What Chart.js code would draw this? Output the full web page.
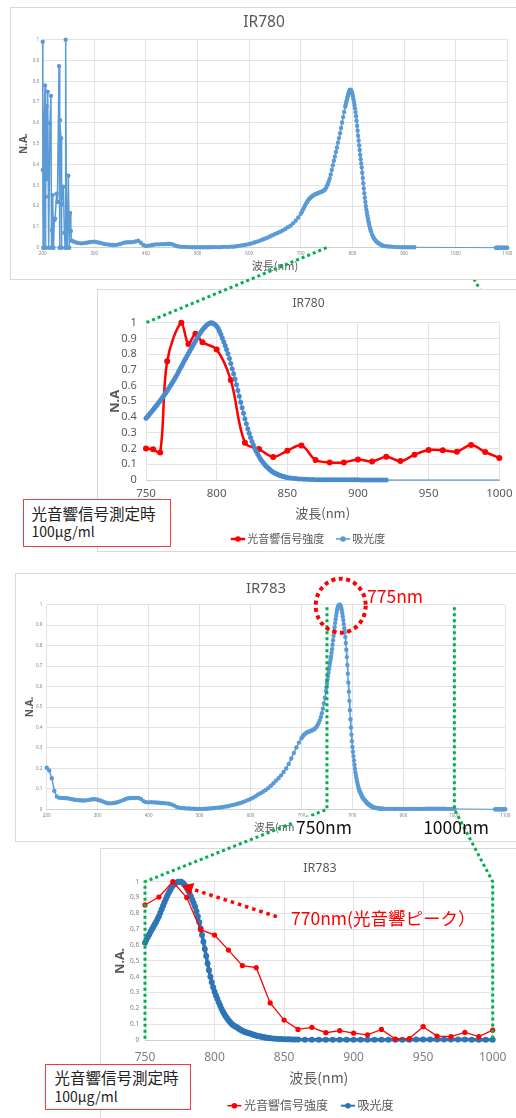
<!DOCTYPE html>
<html lang="ja">
<head>
<meta charset="utf-8">
<title>IR780 / IR783 吸光度と光音響信号</title>
<script src="https://cdn.jsdelivr.net/npm/chart.js@4.4.1/dist/chart.umd.min.js"></script>
<style>
  html, body { margin: 0; padding: 0; background: #fff; overflow: hidden; }
  body { position: relative; width: 516px; height: 1118px; font-family: 'Noto Sans', 'Noto Sans CJK JP', sans-serif; }
  .frame { position: absolute; background: #fff; border: 1px solid #D9D9D9; box-sizing: border-box; overflow: hidden; }
  .frame canvas { position: absolute; left: -1px; top: -1px; }
  #f1 { left: 10px; top: 7px; width: 508px; height: 273px; z-index: 1; }
  #f2 { left: 97px; top: 289px; width: 423px; height: 263px; z-index: 2; }
  #f3 { left: 15px; top: 573px; width: 502px; height: 269px; z-index: 3; }
  #f4 { left: 100px; top: 848px; width: 440px; height: 275px; z-index: 4; }
  #overlay { position: absolute; left: 0; top: 0; z-index: 8; pointer-events: none; }
  .note { position: absolute; white-space: nowrap; z-index: 10; font-family: 'Noto Sans CJK JP', 'Noto Sans', sans-serif; }
  #n775 { left: 367px; top: 585px; font-size: 17.5px; line-height: 21px; color: #FF0000; }
  #n750 { left: 324px; top: 826px; transform: translate(-50%, -50%); font-size: 17.5px; line-height: 19px; color: #111; background: #fff; padding: 0 2px; }
  #n1000 { left: 456px; top: 826px; transform: translate(-50%, -50%); font-size: 17.5px; line-height: 19px; color: #111; }
  #n770 { left: 291px; top: 917px; transform: translateY(-50%); font-size: 17.5px; line-height: 21px; color: #FF0000; }
  .box { position: absolute; z-index: 10; background: #fff; border: 1.5px solid #EE3B3B; box-sizing: border-box; color: #222; font-family: 'Noto Sans CJK JP', 'Noto Sans', sans-serif; }
  .box span { position: absolute; white-space: nowrap; }
  .box .l1 { font-size: 15.5px; line-height: 18px; }
  .box .l2 { font-size: 14px; line-height: 17px; }
  #b1 { left: 23px; top: 499px; width: 148px; height: 48px; }
  #b1 .l1 { left: 7.5px; top: 3.8px; }
  #b1 .l2 { left: 7.5px; top: 23.3px; }
  #b2 { left: 45px; top: 1064px; width: 146px; height: 46px; }
  #b2 .l1 { left: 8.5px; top: 2.5px; }
  #b2 .l2 { left: 8.5px; top: 22.7px; }
</style>
</head>
<body>
<div class="frame" id="f1"><canvas id="c1" width="508" height="273"></canvas></div>
<div class="frame" id="f2"><canvas id="c2" width="423" height="263"></canvas></div>
<div class="frame" id="f3"><canvas id="c3" width="502" height="269"></canvas></div>
<div class="frame" id="f4"><canvas id="c4" width="440" height="275"></canvas></div>
<canvas id="overlay" width="516" height="1118"></canvas>

<div class="note" id="n775">775nm</div>
<div class="note" id="n750">750nm</div>
<div class="note" id="n1000">1000nm</div>
<div class="note" id="n770">770nm(光音響ピーク）</div>
<div class="box" id="b1"><span class="l1">光音響信号測定時</span><span class="l2">100μg/ml</span></div>
<div class="box" id="b2"><span class="l1">光音響信号測定時</span><span class="l2">100μg/ml</span></div>

<script>
// ---- Data: [wavelength (nm), normalized absorbance / signal] ----

// IR780 absorbance spectrum, 200–1100 nm
const ir780Spectrum = [
  [200,.99],[200.3,.374],[201,0],[202.5,.557],[204.5,.78],[205.3,0],[206,.245],[207.7,.68],[208.7,.33],[209.7,.75],
  [211.5,0],[214,.60],[216,.73],[217,0],[218,.085],[219.3,.253],[221,0],[222.5,.133],[224,.14],[227,.26],
  [228.5,.22],[231.6,.873],[232.5,0],[233.5,.613],[235.5,.526],[236.3,0],[237,.21],[240,.293],[242,.072],[243.5,0],
  [244.5,1.0],[246,.085],[247.5,0],[249.6,.346],[251.5,0],[253,.167],[254.5,.08],[256,.034],
  [260,.030],[265,.025],[270,.022],[275,.021],[280,.022],[285,.024],[290,.026],[295,.028],[300,.029],[305,.027],
  [310,.024],[315,.021],[320,.018],[325,.016],[330,.014],[335,.013],[340,.013],[345,.015],[350,.018],[355,.022],
  [360,.025],[365,.026],[370,.026],[375,.027],[380,.030],[385,.034],[390,.024],[395,.013],[400,.008],[405,.010],
  [410,.012],[415,.014],[420,.016],[425,.016],[430,.017],[435,.017],[440,.018],[445,.019],[450,.017],[455,.012],
  [460,.008],[465,.005],[470,.004],[475,.004],[480,.003],[485,.003],[490,.002],[495,.002],[500,.002],[505,.002],
  [510,.002],[515,.002],[520,.002],[525,.002],[530,.003],[535,.003],[540,.003],[545,.003],[550,.004],[555,.004],
  [560,.004],[565,.005],[570,.005],[575,.007],[580,.009],[585,.011],[590,.013],[595,.015],[600,.018],[605,.021],
  [610,.025],[615,.029],[620,.033],[625,.038],[630,.043],[635,.048],[640,.054],[645,.060],[650,.066],[655,.071],
  [660,.077],[665,.083],[670,.090],[675,.098],[680,.106],[685,.117],[690,.130],[695,.145],[700,.163],
  [702,.172],[704,.182],[706,.192],[708,.202],[710,.211],[712,.219],[714,.227],[716,.234],[718,.239],[720,.244],
  [722,.248],[724,.251],[726,.254],[728,.257],[730,.259],[732,.261],[734,.263],[736,.265],[738,.267],[740,.269],
  [742,.271],[744,.274],[746,.278],[748,.284],[750,.293],[752,.305],[754,.318],[756,.333],[758,.352],[760,.374],
  [762,.396],[764,.418],[766,.438],[768,.460],[770,.482],[772,.505],[774,.527],[776,.550],[778,.576],[780,.602],
  [782,.628],[784,.653],
  [786,.678],[787,.688],[788,.698],[789,.708],[790,.718],[791,.728],[792,.738],[793,.746],[794,.753],[795,.758],
  [796,.760],[797,.759],[798,.754],[799,.747],[800,.738],[801,.727],[802,.714],[803,.700],[804,.686],[805,.670],
  [806,.652],[807,.632],[808,.610],[809,.586],[810,.562],[811,.538],[812,.515],[813,.492],[814,.470],[815,.447],
  [816,.425],[817,.405],[818,.385],[819,.360],[820,.335],[821,.310],[822,.285],[823,.262],[824,.240],[825,.220],
  [826,.200],[827,.183],[828,.168],[829,.154],[830,.140],[831,.127],[832,.115],[833,.105],[834,.095],[835,.086],
  [836,.078],
  [838,.064],[840,.053],[842,.044],[844,.037],[846,.031],[848,.026],[850,.022],[852,.019],[854,.016],[856,.013],
  [858,.011],[860,.009],
  [865,.007],[870,.006],[875,.005],[880,.004],[885,.003],[890,.003],[895,.002],[900,.002],[905,.002],[910,.002],
  [915,.002],[920,.002],
  [1078,0],[1080,0],[1082,0],[1084,0],[1086,0],[1088,0],[1090,0],[1092,0],[1094,0],[1096,0],[1098,0],[1100,0]
];

// IR780 absorbance, normalized to its 795 nm peak (750–1000 nm)
const ir780Absorbance = [
  [750,.392],[751,.402],[752,.413],[753,.424],[754,.435],[755,.446],[756,.458],[757,.469],[758,.480],[759,.492],
  [760,.504],[761,.516],[762,.529],[763,.542],[764,.555],[765,.568],[766,.582],[767,.596],[768,.610],[769,.624],
  [770,.639],[771,.655],[772,.671],[773,.688],[774,.705],[775,.722],[776,.739],[777,.756],[778,.772],[779,.788],
  [780,.804],[781,.820],[782,.836],[783,.852],[784,.868],[785,.884],[786,.900],[787,.915],[788,.930],[789,.943],
  [790,.955],[791,.966],[792,.976],[793,.985],[794,.992],[795,.997],[796,.999],[797,.998],[798,.994],[799,.987],
  [800,.977],[801,.964],[802,.946],[803,.925],[804,.902],[805,.879],[806,.855],[807,.830],[808,.802],[809,.772],
  [810,.740],[811,.708],[812,.675],[813,.642],[814,.606],[815,.569],[816,.532],[817,.495],[818,.459],[819,.424],
  [820,.390],[821,.357],[822,.326],[823,.297],[824,.270],[825,.245],[826,.222],[827,.201],[828,.182],[829,.165],
  [830,.149],[831,.134],[832,.121],[833,.109],[834,.098],[835,.088],[836,.079],[837,.071],[838,.063],[839,.056],
  [840,.050],[841,.045],[842,.040],[843,.036],[844,.032],[845,.029],[846,.026],[847,.023],[848,.020],[849,.018],
  [850,.016],[852,.013],[854,.011],[856,.009],[858,.007],[860,.006],[862,.005],[864,.004],[866,.003],[868,.003],
  [870,.002],[872,.002],[874,.002],[876,.001],[878,.001],[880,.001],[882,.001],[884,.001],[886,.001],[888,.001],
  [890,.001],[892,.001],[894,.001],[896,.001],[898,.001],[900,.001],[902,0],[904,0],[906,0],[908,0],
  [910,0],[912,0],[914,0],[916,0],[918,0],[920,0],
  [1000,0]
];

// IR780 photoacoustic signal intensity (normalized)
const ir780Photoacoustic = [
  [750,.200],[755,.195],[760,.175],[765,.755],[775,1.0],[780,.865],[785,.930],[790,.875],[800,.830],[810,.635],
  [820,.237],[830,.197],[840,.147],[850,.186],[860,.220],[870,.127],[880,.112],[890,.112],[900,.131],[910,.118],
  [920,.148],[930,.120],[940,.161],[950,.191],[960,.189],[970,.180],[980,.222],[990,.178],[1000,.140]
];

// IR783 absorbance spectrum, 200–1100 nm (peak 775 nm = 1)
const ir783Spectrum = [
  [200,.203],[205,.190],[210,.152],[215,.090],[220,.062],[225,.056],[230,.055],[235,.055],[240,.054],[245,.052],
  [250,.049],[255,.047],[260,.045],[265,.044],[270,.043],[275,.043],[280,.045],[285,.047],[290,.049],[295,.049],
  [300,.047],[305,.043],[310,.038],[315,.033],[320,.030],[325,.029],[330,.030],[335,.032],[340,.036],[345,.040],
  [350,.045],[355,.050],[360,.054],[365,.055],[370,.055],[375,.055],[380,.056],[385,.050],[390,.040],[395,.035],
  [400,.034],[405,.035],[410,.034],[415,.033],[420,.032],[425,.031],[430,.030],[435,.029],[440,.027],[445,.024],
  [450,.018],[455,.012],[460,.008],[465,.006],[470,.005],[475,.004],[480,.004],[485,.003],[490,.003],[495,.002],
  [500,.002],[505,.002],[510,.003],[515,.003],[520,.004],[525,.005],[530,.006],[535,.008],[540,.009],[545,.011],
  [550,.013],[555,.015],[560,.018],[565,.021],[570,.024],[575,.027],[580,.031],[585,.035],[590,.040],[595,.045],
  [600,.050],[605,.057],[610,.064],[615,.072],[620,.079],[625,.087],[630,.094],[635,.104],[640,.115],[645,.127],
  [650,.140],[655,.152],[660,.166],[665,.182],[670,.200],[675,.222],[680,.248],[685,.275],[690,.302],[695,.326],
  [700,.347],
  [702,.355],[704,.362],[706,.367],[708,.371],[710,.374],[712,.377],[714,.379],[716,.381],[718,.383],[720,.385],
  [722,.387],[724,.390],[726,.394],[728,.399],[730,.405],[732,.413],[734,.423],[736,.436],[738,.451],[740,.470],
  [742,.492],[744,.517],[746,.545],[748,.578],
  [749,.596],[750,.615],[751,.633],[752,.650],[753,.667],[754,.684],[755,.700],[756,.716],[757,.731],[758,.746],
  [759,.764],[760,.782],[761,.804],[762,.826],[763,.848],[764,.870],[765,.890],[766,.910],[767,.928],[768,.945],
  [769,.961],[770,.975],[771,.985],[772,.992],[773,.997],[774,.999],[775,1.0],[776,.999],[777,.994],[778,.985],
  [779,.974],[780,.960],[781,.944],[782,.925],[783,.906],[784,.885],[785,.865],[786,.842],[787,.813],[788,.780],
  [789,.744],[790,.705],[791,.663],[792,.620],[793,.575],[794,.530],[795,.484],[796,.440],[797,.400],[798,.365],
  [799,.333],[800,.305],[801,.281],[802,.260],[803,.239],[804,.218],[805,.198],[806,.180],[807,.164],[808,.150],
  [809,.137],[810,.125],[811,.115],[812,.105],[813,.097],[814,.090],[815,.085],[816,.080],[817,.074],[818,.068],
  [819,.063],[820,.058],[821,.054],[822,.050],[823,.047],[824,.045],[825,.042],[826,.040],[827,.036],[828,.033],
  [829,.030],[830,.028],[831,.026],[832,.024],[833,.022],[834,.020],[835,.018],[836,.017],[837,.015],[838,.014],
  [839,.012],[840,.011],
  [842,.009],[844,.008],[846,.007],[848,.006],[850,.005],[852,.004],[854,.004],[856,.003],[858,.003],[860,.003],
  [865,.002],[870,.002],[875,.002],[880,.002],[885,.002],[890,.002],[895,.002],[900,.002],[905,.002],[910,.002],
  [915,.002],[920,.002],[925,.002],[930,.002],[935,.002],[940,.002],[945,.003],[950,.003],[955,.003],[960,.003],
  [965,.003],[970,.003],[975,.003],[980,.003],[985,.002],[990,.002],[995,.002],[1000,.002],
  [1080,0],[1082,0],[1084,0],[1086,0],[1088,0],[1090,0],[1092,0],[1094,0],[1096,0],[1098,0],[1100,0]
];

// IR783 photoacoustic signal intensity (normalized)
const ir783Photoacoustic = [
  [750,.853],[760,.903],[770,1.0],[780,.900],[790,.697],[800,.663],[810,.568],[820,.470],[830,.457],[840,.234],
  [850,.126],[860,.067],[870,.080],[880,.046],[890,.059],[900,.043],[910,.033],[920,.067],[930,.006],[940,.009],
  [950,.084],[960,.025],[970,.021],[980,.048],[990,.021],[1000,.062]
];

const seriesLabels = ['光音響信号強度', '吸光度'];
const xAxisLabel = '波長(nm)';

// ---- Styling ----
const BLUE = '#5B9BD5';
const BLUE_MID = '#4A8BD0';
const BLUE_DARK = '#2E75B6';
const RED = '#FF0000';
const GRID = '#E3E3E3';
const AXIS = '#D0D0D0';
const GREY = '#595959';
const LIGHT_GREY = '#7F7F7F';

Chart.defaults.font.family = "'Noto Sans', 'Noto Sans CJK JP', sans-serif";
Chart.defaults.color = GREY;

const toPoints = arr => arr.map(([x, y]) => ({ x, y }));

// Legend drawn as Excel-style "line with marker" samples
const lineLegend = {
  id: 'lineLegend',
  afterDraw(chart, args, o) {
    const ctx = chart.ctx;
    ctx.save();
    ctx.font = `${o.size}px 'Noto Sans CJK JP', 'Noto Sans', sans-serif`;
    ctx.textBaseline = 'middle';
    const items = o.order.map(i => {
      const ds = chart.data.datasets[i];
      return { label: ds.label, color: ds.legendColor || ds.borderColor, lw: ds.legendLine || 2, w: ctx.measureText(ds.label).width };
    });
    const total = items.reduce((s, it) => s + o.symbol + o.textGap + it.w, 0) + o.itemGap * (items.length - 1);
    let x = o.centerX - total / 2;
    for (const it of items) {
      ctx.strokeStyle = it.color;
      ctx.lineWidth = it.lw;
      ctx.beginPath();
      ctx.moveTo(x, o.y);
      ctx.lineTo(x + o.symbol, o.y);
      ctx.stroke();
      ctx.fillStyle = it.color;
      ctx.beginPath();
      ctx.arc(x + o.symbol / 2, o.y, o.dot, 0, Math.PI * 2);
      ctx.fill();
      x += o.symbol + o.textGap;
      ctx.fillStyle = GREY;
      ctx.fillText(it.label, x, o.y);
      x += it.w + o.itemGap;
    }
    ctx.restore();
  }
};

function chartOptions(g) {
  return {
    responsive: false,
    animation: false,
    events: [],
    layout: { padding: 0 },
    datasets: { line: { clip: false } },
    plugins: {
      legend: { display: false },
      tooltip: { enabled: false },
      title: {
        display: true, text: g.title, color: GREY,
        font: { size: g.titleSize, weight: 'normal' },
        padding: { top: g.titlePadTop, bottom: g.titlePadBottom }
      },
      lineLegend: g.legend || false
    },
    scales: {
      x: {
        type: 'linear', min: g.xMin, max: g.xMax,
        ticks: {
          stepSize: g.xStep, autoSkip: false, maxRotation: 0, padding: g.xTickPad,
          color: g.xTickColor, font: { size: g.xTickSize }, callback: v => String(v)
        },
        grid: { color: GRID, drawTicks: false },
        border: { display: true, color: AXIS },
        title: {
          display: true, text: xAxisLabel, color: GREY,
          font: { size: g.xTitleSize, family: "'Noto Sans CJK JP', 'Noto Sans', sans-serif" },
          padding: { top: 0, bottom: g.xTitlePad }
        },
        afterFit: s => { s.height = g.xHeight; }
      },
      y: {
        type: 'linear', min: 0, max: 1,
        ticks: {
          stepSize: 0.1, autoSkip: false, padding: g.yTickPad,
          color: g.yTickColor, font: { size: g.yTickSize },
          callback: v => String(Math.round(v * 10) / 10)
        },
        grid: { color: GRID, drawTicks: false },
        border: { display: false },
        title: {
          display: true, text: g.yTitle, color: GREY,
          font: { size: g.yTitleSize, weight: 'bold' },
          padding: { top: g.yTitlePad, bottom: 0 }
        },
        afterFit: s => { s.width = g.yWidth; }
      },
      yRight: {
        type: 'linear', position: 'right',
        ticks: { display: false },
        grid: { display: false, drawTicks: false },
        border: { display: false },
        afterFit: s => { s.width = g.padWidth; }
      }
    }
  };
}

const thinAcrossGaps = (wide, thin) => ({
  borderWidth: c => (c.p1.parsed.x - c.p0.parsed.x > 40 ? thin : wide)
});

// IR780 full spectrum
const chart1 = new Chart(document.getElementById('c1'), {
  type: 'line',
  data: {
    datasets: [{
      label: seriesLabels[1], data: toPoints(ir780Spectrum), clip: false,
      borderColor: BLUE, backgroundColor: BLUE, borderWidth: 1.5,
      pointRadius: 2.2, pointBorderWidth: 0, pointBackgroundColor: BLUE,
      segment: thinAcrossGaps(1.5, 1)
    }]
  },
  options: chartOptions({
    title: 'IR780', titleSize: 15.5, titlePadTop: 6, titlePadBottom: 8.1,
    xMin: 200, xMax: 1100, xStep: 100, xTickSize: 4.5, xTickPad: 3.6, xTickColor: LIGHT_GREY,
    xTitleSize: 11, xTitlePad: 7.7, xHeight: 32.3,
    yTickSize: 4.5, yTickPad: 3.7, yTickColor: LIGHT_GREY,
    yTitle: 'N.A.', yTitleSize: 10, yTitlePad: 8, yWidth: 32.7, padWidth: 10.7
  })
});

// IR780 750–1000 nm: photoacoustic signal vs absorbance
const chart2 = new Chart(document.getElementById('c2'), {
  type: 'line',
  data: {
    datasets: [{
      label: seriesLabels[0], data: toPoints(ir780Photoacoustic), order: 2, clip: false,
      borderColor: RED, backgroundColor: RED, borderWidth: 2.5, tension: 0.35,
      pointRadius: 3, pointBorderWidth: 0, pointBackgroundColor: RED, legendLine: 2.5
    }, {
      label: seriesLabels[1], data: toPoints(ir780Absorbance), order: 1, clip: false,
      borderColor: BLUE_MID, backgroundColor: BLUE_MID, borderWidth: 1.5,
      pointRadius: c => (c.raw && c.raw.x > 920 ? 0 : 2.5), pointBorderWidth: 0,
      pointBackgroundColor: BLUE_MID, legendColor: BLUE, legendLine: 1.5,
      segment: { borderWidth: c => (c.p0.parsed.x >= 920 ? 1 : 1.5) }
    }]
  },
  options: chartOptions({
    title: 'IR780', titleSize: 12, titlePadTop: 7.8, titlePadBottom: 11.5,
    xMin: 750, xMax: 1000, xStep: 50, xTickSize: 11.5, xTickPad: 7.1, xTickColor: GREY,
    xTitleSize: 13, xTitlePad: 31.2, xHeight: 72,
    yTickSize: 11, yTickPad: 9.3, yTickColor: GREY,
    yTitle: 'N.A', yTitleSize: 13, yTitlePad: 10.2, yWidth: 49, padWidth: 20.7,
    legend: { order: [0, 1], centerX: 211, y: 250, size: 11, symbol: 14.3, textGap: 2, itemGap: 11.7, dot: 2.8 }
  }),
  plugins: [lineLegend]
});

// IR783 full spectrum
const chart3 = new Chart(document.getElementById('c3'), {
  type: 'line',
  data: {
    datasets: [{
      label: seriesLabels[1], data: toPoints(ir783Spectrum), clip: false,
      borderColor: BLUE, backgroundColor: BLUE, borderWidth: 1.5,
      pointRadius: 2.2, pointBorderWidth: 0, pointBackgroundColor: BLUE,
      segment: thinAcrossGaps(1.5, 1)
    }]
  },
  options: chartOptions({
    title: 'IR783', titleSize: 15, titlePadTop: 6.3, titlePadBottom: 7.4,
    xMin: 200, xMax: 1100, xStep: 100, xTickSize: 4.5, xTickPad: 4, xTickColor: LIGHT_GREY,
    xTitleSize: 10.5, xTitlePad: 8.7, xHeight: 32.7,
    yTickSize: 4.5, yTickPad: 4.4, yTickColor: LIGHT_GREY,
    yTitle: 'N.A.', yTitleSize: 10, yTitlePad: 9, yWidth: 31.7, padWidth: 11.7
  })
});

// IR783 750–1000 nm: photoacoustic signal vs absorbance
const chart4 = new Chart(document.getElementById('c4'), {
  type: 'line',
  data: {
    datasets: [{
      label: seriesLabels[0], data: toPoints(ir783Photoacoustic), order: 1, clip: false,
      borderColor: RED, backgroundColor: RED, borderWidth: 1.3,
      pointRadius: 2.6, pointBorderWidth: 0, pointBackgroundColor: RED, legendLine: 1.5
    }, {
      label: seriesLabels[1], clip: false,
      data: toPoints(ir783Spectrum.filter(([nm]) => nm >= 750 && nm <= 1000)), order: 2,
      borderColor: BLUE_DARK, backgroundColor: BLUE_DARK, borderWidth: 3.5,
      pointRadius: 3, pointBorderWidth: 0, pointBackgroundColor: BLUE_DARK, legendLine: 2
    }]
  },
  options: chartOptions({
    title: 'IR783', titleSize: 12.5, titlePadTop: 12.8, titlePadBottom: 5.9,
    xMin: 750, xMax: 1000, xStep: 50, xTickSize: 12, xTickPad: 10.1, xTickColor: LIGHT_GREY,
    xTitleSize: 14, xTitlePad: 36.9, xHeight: 83,
    yTickSize: 6.5, yTickPad: 5.7, yTickColor: LIGHT_GREY,
    yTitle: 'N.A.', yTitleSize: 12.5, yTitlePad: 12.5, yWidth: 45, padWidth: 47.3,
    legend: { order: [0, 1], centerX: 210.4, y: 257.7, size: 12, symbol: 14, textGap: 2.5, itemGap: 13, dot: 2.8 }
  }),
  plugins: [lineLegend]
});

// ---- Callouts linking the overview spectra to the 750–1000 nm close-ups ----
function at(chart, xv, yv) {
  const r = chart.canvas.getBoundingClientRect();
  return { x: r.left + chart.scales.x.getPixelForValue(xv), y: r.top + chart.scales.y.getPixelForValue(yv) };
}

const ov = document.getElementById('overlay').getContext('2d');
const GREEN = '#00B050';

function dotted(points, color, width, dash) {
  ov.save();
  ov.strokeStyle = color;
  ov.lineWidth = width;
  ov.setLineDash(dash);
  ov.beginPath();
  ov.moveTo(points[0].x, points[0].y);
  for (let i = 1; i < points.length; i++) ov.lineTo(points[i].x, points[i].y);
  ov.stroke();
  ov.restore();
}

// IR780 overview → close-up
dotted([at(chart1, 750, 0), at(chart2, 750, 1)], GREEN, 3, [3, 3]);
{
  const b1 = document.getElementById('f1').getBoundingClientRect();
  const t2 = document.getElementById('f2').getBoundingClientRect();
  ov.save();
  ov.beginPath();
  ov.rect(0, b1.bottom, 516, t2.top - b1.bottom);
  ov.clip();
  dotted([at(chart1, 1000, 0), at(chart2, 1000, 1)], GREEN, 3, [3, 3]);
  ov.restore();
}

// IR783 overview → close-up, bracketing 750 nm and 1000 nm
for (const nm of [750, 1000]) {
  dotted([at(chart3, nm, 0.988), at(chart3, nm, 0), at(chart4, nm, 1), at(chart4, nm, 0)], GREEN, 3, [3, 3]);
}

// Absorbance peak marker (775 nm)
{
  const pk = at(chart3, 775, 1);
  ov.save();
  ov.strokeStyle = RED;
  ov.lineWidth = 4;
  ov.setLineDash([4, 3.5]);
  ov.beginPath();
  ov.ellipse(pk.x + 1, pk.y + 1, 25, 27, 0, 0, Math.PI * 2);
  ov.stroke();
  ov.restore();
}

// Arrow to the photoacoustic peak
{
  const tip = at(chart4, 776.5, 0.975);
  const start = { x: tip.x + 95, y: tip.y + 31 };
  const dx = tip.x - start.x, dy = tip.y - start.y;
  const len = Math.hypot(dx, dy);
  const ux = dx / len, uy = dy / len;
  const headLen = 11, headHalf = 6.5;
  const base = { x: tip.x - ux * headLen, y: tip.y - uy * headLen };
  dotted([start, base], RED, 3.5, [3.5, 4]);
  ov.save();
  ov.fillStyle = RED;
  ov.beginPath();
  ov.moveTo(tip.x, tip.y);
  ov.lineTo(base.x - uy * headHalf, base.y + ux * headHalf);
  ov.lineTo(base.x + uy * headHalf, base.y - ux * headHalf);
  ov.closePath();
  ov.fill();
  ov.restore();
}
</script>
</body>
</html>
